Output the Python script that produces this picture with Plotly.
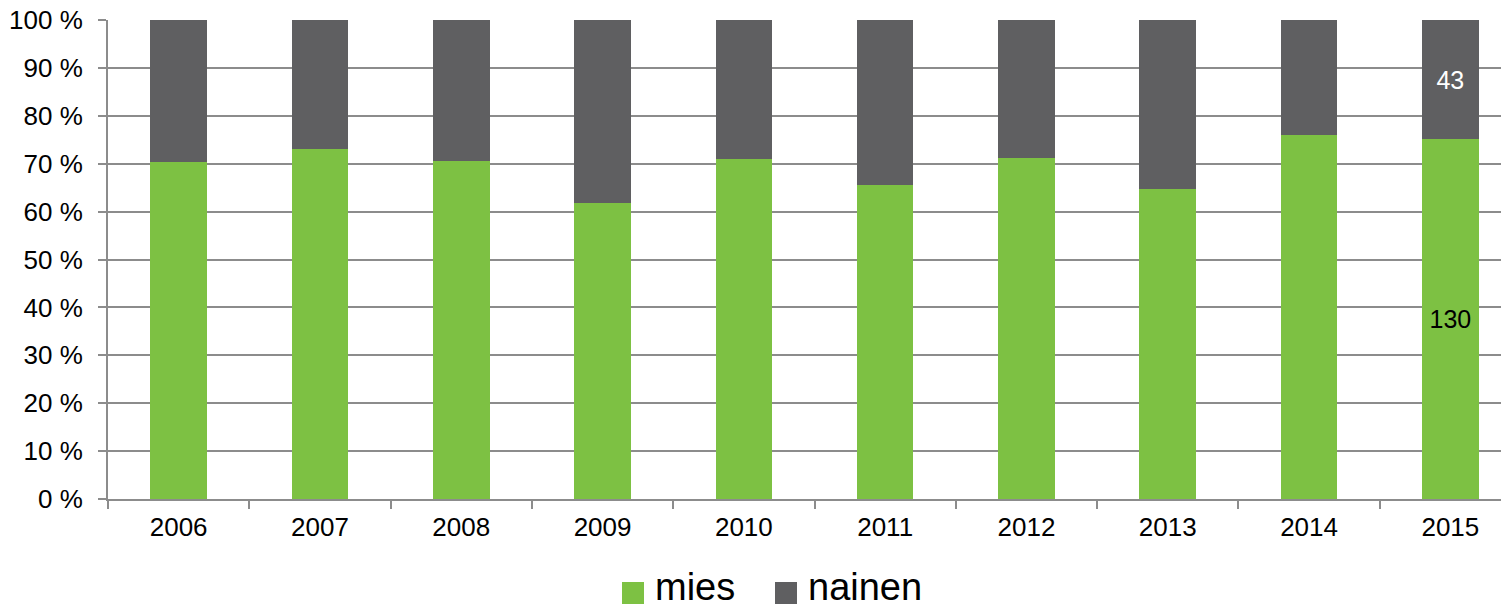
import plotly.graph_objects as go

# vuosi ja sukupuolijakauma (%)
years = ['2006', '2007', '2008', '2009', '2010', '2011', '2012', '2013', '2014', '2015']
mies_pct = [70.3, 73.1, 70.6, 61.9, 71.0, 65.5, 71.2, 64.7, 76.0, 75.1]
nainen_pct = [29.7, 26.9, 29.4, 38.1, 29.0, 34.5, 28.8, 35.3, 24.0, 24.9]
# arvot näkyvissä vain viimeisellä vuodella
mies_labels = ['', '', '', '', '', '', '', '', '', '130']
nainen_labels = ['', '', '', '', '', '', '', '', '', '43']
y_ticks = [0, 10, 20, 30, 40, 50, 60, 70, 80, 90, 100]

GREEN = '#7dc143'
GRAY = '#5f5f61'
GRID = '#8c8c8c'
FONT = 'Liberation Sans, Arial, sans-serif'

# sivun body-marginaali (8 px) siirtää kuvaa, joten kuva on 8 px pienempi
PLOT_L, PLOT_T, PLOT_W, PLOT_H = 108, 20, 1401, 479
# alkuperäisessä viimeinen luokka jatkuu hieman kuvan reunan yli
CAT_W = 141.3

fig = go.Figure()
fig.add_trace(go.Bar(
    x=years, y=mies_pct, name='mies',
    marker=dict(color=GREEN, line=dict(width=0)),
    text=mies_labels, textposition='inside', insidetextanchor='middle',
    textfont=dict(color='black', size=25, family=FONT),
    hoverinfo='skip',
))
fig.add_trace(go.Bar(
    x=years, y=nainen_pct, name='nainen',
    marker=dict(color=GRAY, line=dict(width=0)),
    text=nainen_labels, textposition='inside', insidetextanchor='middle',
    textfont=dict(color='white', size=25, family=FONT),
    hoverinfo='skip',
))

fig.update_layout(
    barmode='stack',
    bargap=0.6,
    width=1501, height=602,
    margin=dict(l=100, r=0, t=12, b=111),
    paper_bgcolor='white', plot_bgcolor='white',
    font=dict(family=FONT, size=25, color='black'),
    showlegend=False,
)

fig.update_xaxes(
    type='category', tickson='boundaries', automargin=False,
    range=[-0.5, -0.5 + PLOT_W / CAT_W],
    showline=True, linecolor=GRID, linewidth=2,
    ticks='outside', ticklen=8, tickwidth=2, tickcolor=GRID,
    showgrid=False, tickfont=dict(size=26), ticklabelstandoff=4,
)
fig.update_yaxes(
    range=[0, 100], tickvals=y_ticks, ticktext=[f'{v} %' for v in y_ticks],
    automargin=False,
    showline=True, linecolor=GRID, linewidth=2,
    ticks='outside', ticklen=8, tickwidth=2, tickcolor=GRID,
    showgrid=True, gridcolor=GRID, gridwidth=2,
    zeroline=False, tickfont=dict(size=26), ticklabelstandoff=10,
    ticklabeloverflow='allow',
)


def px_x(px):
    return (px - PLOT_L) / PLOT_W


def px_y(py):
    return (PLOT_T + PLOT_H - py) / PLOT_H


# selite käsin, jotta merkit ovat yhtä suuret kuin alkuperäisessä
legend_items = [('mies', GREEN, 622), ('nainen', GRAY, 775)]
for name, color, px in legend_items:
    fig.add_shape(
        type='rect', xref='paper', yref='paper',
        x0=px_x(px), x1=px_x(px + 22),
        y0=px_y(604), y1=px_y(582),
        fillcolor=color, line=dict(width=0),
    )
    fig.add_annotation(
        text=name, xref='paper', yref='paper',
        x=px_x(px + 31), y=px_y(587),
        xanchor='left', yanchor='middle', showarrow=False,
        font=dict(size=38, family=FONT, color='black'),
    )

fig.write_html('out.html')
